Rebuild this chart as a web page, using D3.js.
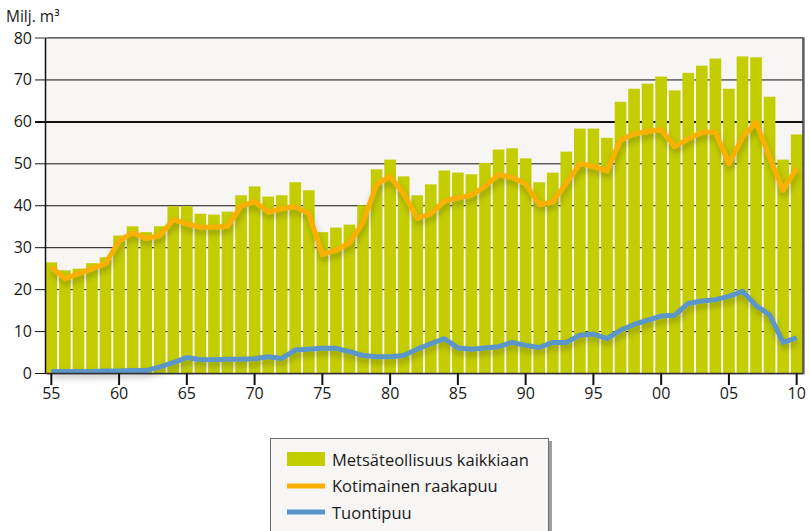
<!DOCTYPE html>
<html>
<head>
<meta charset="utf-8">
<style>
  body { margin: 0; background: #fff; }
  text { font-family: "Open Sans", sans-serif; fill: #1a1a1a; }
</style>
</head>
<body>
<svg id="chart"></svg>
<script src="https://d3js.org/d3.v7.min.js"></script>
<script>
// years 1955-2010
var years = d3.range(1955, 2011);

// Metsäteollisuus kaikkiaan (bars)
var total = [26.5, 24.6, 25.0, 26.3, 27.7, 32.9, 35.1, 33.7, 35.1, 39.9,
             39.9, 38.1, 37.9, 38.6, 42.5, 44.6, 42.2, 42.5, 45.6, 43.7,
             33.7, 34.8, 35.5, 40.1, 48.7, 51.0, 47.0, 42.5, 45.1, 48.4,
             47.9, 47.5, 50.2, 53.4, 53.7, 51.3, 45.6, 47.9, 52.9, 58.4,
             58.4, 56.2, 64.8, 67.9, 69.1, 70.8, 67.5, 71.7, 73.4, 75.1,
             67.9, 75.6, 75.4, 66.0, 51.0, 57.0];

// Kotimainen raakapuu (orange line)
var domestic = [25.4, 22.6, 23.8, 25.0, 26.2, 31.6, 33.6, 32.2, 32.9, 36.7,
                35.7, 34.9, 34.9, 35.1, 39.9, 41.0, 38.5, 39.3, 39.8, 38.1,
                28.4, 29.4, 31.1, 36.1, 45.1, 47.0, 42.9, 37.0, 38.1, 41.1,
                41.9, 42.5, 44.6, 47.4, 46.8, 45.2, 40.3, 40.9, 45.4, 50.0,
                49.4, 48.3, 55.7, 57.1, 57.7, 58.2, 54.1, 56.0, 57.5, 57.6,
                50.0, 56.3, 59.9, 51.6, 43.7, 49.0];

// Tuontipuu (blue line)
var imported = [0.5, 0.5, 0.5, 0.5, 0.6, 0.6, 0.7, 0.7, 1.6, 2.6,
                3.8, 3.3, 3.3, 3.4, 3.4, 3.5, 4.0, 3.6, 5.6, 5.8,
                6.0, 6.0, 5.2, 4.3, 4.0, 4.0, 4.3, 5.8, 7.1, 8.3,
                6.1, 5.8, 6.1, 6.4, 7.4, 6.7, 6.2, 7.4, 7.4, 9.1,
                9.4, 8.3, 10.3, 11.7, 12.7, 13.7, 13.9, 16.7, 17.3, 17.6,
                18.4, 19.6, 16.2, 14.0, 7.4, 8.5];

var yTicks = [0, 10, 20, 30, 40, 50, 60, 70, 80];
var xTickYears = [1955, 1960, 1965, 1970, 1975, 1980, 1985, 1990, 1995, 2000, 2005, 2010];
var legendLabels = ["Metsäteollisuus kaikkiaan", "Kotimainen raakapuu", "Tuontipuu"];

var barColor = "#c3cd00", orange = "#f9b000", blue = "#5b96c9";

var W = 810, H = 531;
var pLeft = 45.5, pRight = 803, pTop = 38, pBottom = 373.5;

var svg = d3.select("#chart").attr("width", W).attr("height", H);

var defs = svg.append("defs");
var sh = defs.append("filter").attr("id", "shadow")
    .attr("x", "-10%").attr("y", "-20%").attr("width", "120%").attr("height", "160%");
sh.append("feGaussianBlur").attr("in", "SourceAlpha").attr("stdDeviation", 3).attr("result", "b");
sh.append("feOffset").attr("in", "b").attr("dx", 1).attr("dy", 4).attr("result", "o");
sh.append("feComponentTransfer").attr("in", "o").attr("result", "o2")
  .append("feFuncA").attr("type", "linear").attr("slope", 0.25);
var m = sh.append("feMerge");
m.append("feMergeNode").attr("in", "o2");
m.append("feMergeNode").attr("in", "SourceGraphic");

var x = d3.scaleBand().domain(years).range([pLeft, 802.5]).paddingInner(0.14).paddingOuter(0);
var y = d3.scaleLinear().domain([0, 80]).range([pBottom, pTop]);
var cx = function(yr) { return x(yr) + x.bandwidth() / 2; };

// plot background + shadow
svg.append("rect").attr("x", pLeft + 2).attr("y", pTop - 1).attr("width", pRight - pLeft).attr("height", pBottom - pTop + 2)
   .attr("fill", "#9a9a9a");
svg.append("rect").attr("x", pLeft).attr("y", pTop).attr("width", pRight - pLeft).attr("height", pBottom - pTop)
   .attr("fill", "#f7f6f4");

// gridlines and left ticks
svg.append("g").selectAll("line").data(yTicks).enter().append("line")
   .attr("x1", 35).attr("x2", pRight)
   .attr("y1", function(d) { return y(d); }).attr("y2", function(d) { return y(d); })
   .attr("stroke", function(d) { return d == 80 ? "#333" : "#111"; })
   .attr("stroke-width", function(d) { return d == 60 ? 2 : 1; });

// bars
svg.append("g").selectAll("rect").data(years).enter().append("rect")
   .attr("x", function(d) { return x(d); })
   .attr("width", x.bandwidth())
   .attr("y", function(d, i) { return y(total[i]); })
   .attr("height", function(d, i) { return y(0) - y(total[i]); })
   .attr("fill", barColor);

// lines
var line = function(vals) {
  return d3.line().x(function(d) { return cx(d); }).y(function(d, i) { return y(vals[i]); })(years);
};
svg.append("path").attr("d", line(domestic)).attr("fill", "none").attr("stroke", orange)
   .attr("stroke-width", 5).attr("stroke-linejoin", "round").attr("filter", "url(#shadow)");
svg.append("path").attr("d", line(imported)).attr("fill", "none").attr("stroke", blue)
   .attr("stroke-width", 5).attr("stroke-linejoin", "round").attr("filter", "url(#shadow)");

// axes frame
svg.append("line").attr("x1", pLeft).attr("x2", pLeft).attr("y1", pTop).attr("y2", pBottom)
   .attr("stroke", "#111").attr("stroke-width", 1.5);
svg.append("line").attr("x1", pRight).attr("x2", pRight).attr("y1", pTop).attr("y2", pBottom)
   .attr("stroke", "#444").attr("stroke-width", 1.5);
svg.append("line").attr("x1", pLeft).attr("x2", pRight).attr("y1", pBottom).attr("y2", pBottom)
   .attr("stroke", "#333").attr("stroke-width", 1.5);

// y labels
svg.append("g").selectAll("text").data(yTicks).enter().append("text")
   .attr("x", 32).attr("y", function(d) { return y(d) + 5.5; })
   .attr("text-anchor", "end").attr("font-size", 16)
   .text(function(d) { return d; });

svg.append("text").attr("x", 6).attr("y", 22).attr("font-size", 15.5).text("Milj. m³");

// x ticks + labels
var xt = svg.append("g").selectAll("g").data(xTickYears).enter().append("g")
   .attr("transform", function(d) { return "translate(" + cx(d) + ",0)"; });
xt.append("line").attr("y1", pBottom).attr("y2", 385).attr("stroke", "#111").attr("stroke-width", 2);
xt.append("text").attr("y", 399).attr("text-anchor", "middle").attr("font-size", 16)
  .text(function(d) { return String(d).slice(2); });

// legend
var lg = svg.append("g");
lg.append("rect").attr("x", 273).attr("y", 441).attr("width", 279).attr("height", 100).attr("fill", "#a0a0a0");
lg.append("rect").attr("x", 270.5).attr("y", 438.5).attr("width", 278).attr("height", 100)
  .attr("fill", "#f7f6f4").attr("stroke", "#6a6a6a").attr("stroke-width", 1);
lg.append("rect").attr("x", 287).attr("y", 452).attr("width", 38).attr("height", 14).attr("fill", barColor);
lg.append("line").attr("x1", 287).attr("x2", 325).attr("y1", 486).attr("y2", 486).attr("stroke", orange).attr("stroke-width", 5);
lg.append("line").attr("x1", 287).attr("x2", 325).attr("y1", 512).attr("y2", 512).attr("stroke", blue).attr("stroke-width", 5);
lg.selectAll("text.l").data(legendLabels).enter().append("text")
  .attr("x", 332).attr("y", function(d, i) { return 465.5 + i * 26.5; })
  .attr("font-size", 16.5).text(function(d) { return d; });
</script>
</body>
</html>
